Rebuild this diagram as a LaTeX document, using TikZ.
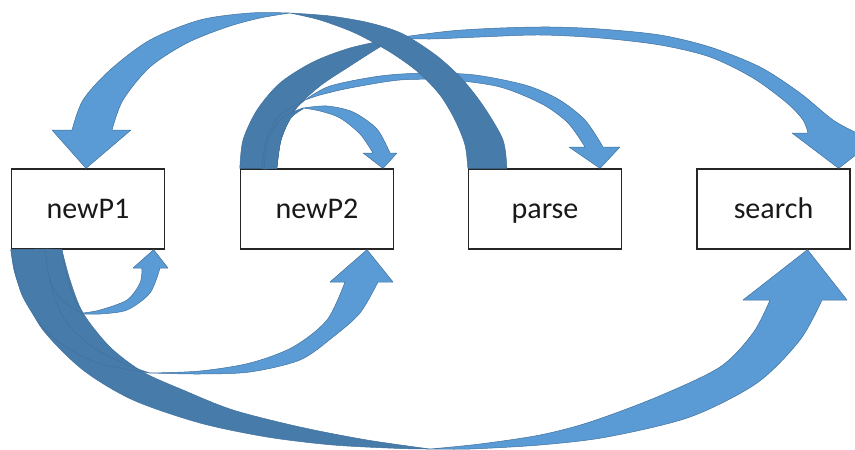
\documentclass[tikz,border=0pt]{standalone}
\usepackage{fontspec}
\setmainfont{Carlito}
\usetikzlibrary{calc}
\definecolor{arrowlight}{HTML}{5B9BD5}
\definecolor{arrowdark}{HTML}{477BAA}
\definecolor{arrowedge}{HTML}{41719C}
\begin{document}
\begin{tikzpicture}[x=1pt,y=-1pt,
  procbox/.style={draw=black!85, line width=1.3pt, fill=white,
    minimum width=153pt, minimum height=80pt, inner sep=0pt,
    text height=22pt, text depth=4pt,
    font=\fontsize{30}{36}\selectfont, text=black!90},
  arrowfront/.style={fill=arrowlight, draw=arrowedge, line width=0.5pt, line join=round},
  arrowback/.style={fill=arrowdark, draw=arrowedge, line width=0.5pt, line join=round}]
\useasboundingbox (0,0) rectangle (855,450);

% the four process boxes
\node[procbox] (newP1)  at (88,209)    {newP1};
\node[procbox] (newP2)  at (317,209)   {newP2};
\node[procbox] (parse)  at (545,209)   {parse};
\node[procbox] (search) at (773.5,209) {search};

% arrow tips and ribbon bases on the boxes
\coordinate (tA) at ($(newP1.north)+(-2,0)$);
\coordinate (tB) at ($(search.north east)+(-12,0)$);
\coordinate (tC) at ($(parse.north)+(55,0)$);
\coordinate (tD) at ($(newP2.north)+(66,0)$);
\coordinate (tE) at ($(newP1.south east)+(-11.5,0)$);
\coordinate (tF) at ($(newP2.south)+(50,0)$);
\coordinate (tG) at ($(search.south)+(34,0)$);
\coordinate (bA1) at (parse.north west);
\coordinate (bA2) at ($(parse.north west)+(39,0)$);
\coordinate (bB1) at (newP2.north west);
\coordinate (bB2) at ($(newP2.north west)+(37,0)$);
\coordinate (bG1) at (newP1.south west);
\coordinate (bG2) at ($(newP1.south west)+(51,0)$);

% ---- ribbons leaving newP2 from the top (back faces) ----
\filldraw[arrowback] plot[smooth] coordinates {(bB1) (243,140) (257,110) (280,83) (313,62) (350,48) (395,38)}
  -- plot[smooth] coordinates {(395,38) (375,50) (350,66) (320,86) (295,110) (281,140) (bB2)} -- cycle;
\filldraw[arrowback] plot[smooth] coordinates {(262,169) (266,140) (280,115) (305,100)}
  -- plot[smooth] coordinates {(305,100) (292,113) (281,140) (bB2)} -- cycle;
\filldraw[arrowback] plot[smooth] coordinates {(264,169) (268,140) (282,118) (303,108)}
  -- plot[smooth] coordinates {(303,109) (291,118) (281,140) (bB2)} -- cycle;

% newP2 -> search
\filldraw[arrowfront] plot[smooth] coordinates {(395,38) (450,31) (500,28) (550,27) (600,29) (660,35) (710,47) (760,67) (800,93) (833,120) (857,133)}
  -- (884,133) -- (tB) -- (792,133) -- (808,133)
  -- plot[smooth] coordinates {(808,133) (803,120) (787,103) (753,78) (710,57) (660,45) (600,38) (540,35) (480,37) (430,39) (395,38)} -- cycle;
% newP2 -> parse
\filldraw[arrowfront] plot[smooth] coordinates {(305,100) (330,86) (380,76) (427,73) (475,75) (525,85) (558,99) (585,120) (603,147)}
  -- (620,147) -- (tC) -- (569,147) -- (585,147)
  -- plot[smooth] coordinates {(585,147) (568,123) (542,104) (500,87) (450,80) (400,80) (350,88) (320,95) (305,100)} -- cycle;
% newP2 -> newP2
\filldraw[arrowfront] plot[smooth] coordinates {(303,108) (327,106) (353,112) (377,129) (390,153)}
  -- (397,153) -- (tD) -- (363,153) -- (373,153)
  -- plot[smooth] coordinates {(373,153) (360,134) (340,118) (320,111) (303,108)} -- cycle;

% ---- parse -> newP1 ----
\filldraw[arrowback] plot[smooth] coordinates {(bA2) (503,140) (484,107) (463,80) (437,56) (403,34) (370,23) (330,16) (290,13)}
  -- plot[smooth] coordinates {(290,13) (320,20) (355,33) (390,52) (418,72) (440,95) (455,120) (465,145) (bA1)} -- cycle;
\filldraw[arrowfront] plot[smooth] coordinates {(290,13) (250,13) (200,20) (150,40) (110,70) (83,100) (72,130)}
  -- (52,130) -- (tA) -- (131,130) -- (112,130)
  -- plot[smooth] coordinates {(112,130) (123,100) (150,67) (187,43) (227,27) (260,18) (290,13)} -- cycle;

% ---- ribbons leaving newP1 from the bottom (back faces) ----
\filldraw[arrowback] plot[smooth] coordinates {(bG1) (14,270) (21,290) (43,330) (83,370) (133,400) (200,423) (267,437) (333,445) (400,448.5) (430,449)}
  -- plot[smooth] coordinates {(430,449) (367,440) (300,427) (233,410) (183,390) (143,372) (110,347) (83,313) (70,280) (bG2)} -- cycle;
\filldraw[arrowback] plot[smooth] coordinates {(bG1) (22,295) (50,335) (95,362) (150,373)}
  -- plot[smooth] coordinates {(150,373) (125,364) (93,347) (67,323) (52,290) (47,249)} -- cycle;
\filldraw[arrowback] plot[smooth] coordinates {(45,249) (50,280) (62,300) (83,314)}
  -- plot[smooth] coordinates {(83,313) (75,300) (68,280) (bG2)} -- cycle;

% newP1 -> search
\filldraw[arrowfront] plot[smooth] coordinates {(430,449) (470,449) (540,445) (607,437) (690,417) (757,383) (800,340) (822,300)}
  -- (847,300) -- (tG) -- (743,300) -- (770,300)
  -- plot[smooth] coordinates {(770,300) (753,333) (720,367) (657,397) (590,422) (540,435) (480,444) (430,449)} -- cycle;
% newP1 -> newP2
\filldraw[arrowfront] plot[smooth] coordinates {(150,373) (200,374) (250,372) (300,360) (333,337) (360,313) (378,282)}
  -- (393,282) -- (tF) -- (330,282) -- (345,282)
  -- plot[smooth] coordinates {(345,282) (327,320) (293,347) (250,363) (200,371) (150,373)} -- cycle;
% newP1 -> newP1
\filldraw[arrowfront] plot[smooth] coordinates {(83,314) (100,314) (127,310) (150,293) (160,268)}
  -- (168,268) -- (tE) -- (133,268) -- (142,268)
  -- plot[smooth] coordinates {(142,268) (140,283) (127,300) (100,310) (83,313)} -- cycle;
\end{tikzpicture}
\end{document}
